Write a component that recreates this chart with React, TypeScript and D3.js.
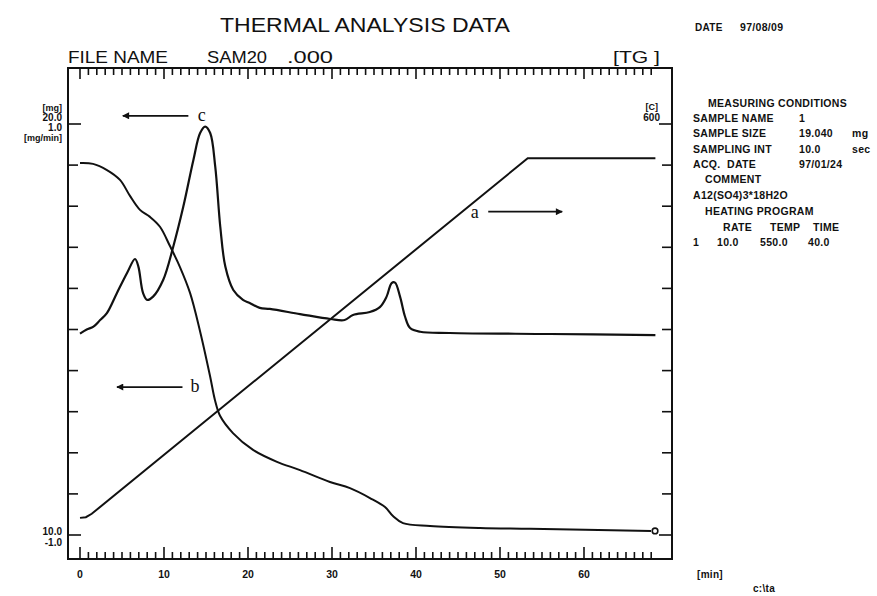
import React from 'react';
import * as d3 from 'd3';

// ---- data (time in min) ----
const timeLabels = [0, 10, 20, 30, 40, 50, 60];
const minuteTicks = d3.range(0, 69);

// a: temperature [C]
const tempTime = [0, 0.7, 1.4, 53.3, 68.5];
const tempValue = [25, 26, 31, 550, 550];

// b: TG weight [mg]
const tgTime = [0, 1.55, 3.21, 4.76, 5.95, 7.14, 8.33, 9.52, 10.71, 11.9, 13.1, 14.29, 15.48, 16.07, 16.67, 18.21, 20.6, 23.45, 26.19, 29.76, 32.14, 34.52, 36.31, 37.26, 38.45, 41.67, 47.62, 53.57, 67.98];
const tgValue = [19.05, 19.03, 18.88, 18.64, 18.25, 17.91, 17.74, 17.5, 17.03, 16.52, 15.89, 14.96, 13.87, 13.28, 12.9, 12.48, 12.07, 11.78, 11.58, 11.29, 11.14, 10.9, 10.68, 10.46, 10.29, 10.22, 10.17, 10.15, 10.1];

// c: DTG [mg/min]
const dtgTime = [0, 0.8, 1.6, 2.4, 3.2, 4.4, 5.6, 6.55, 6.95, 7.5, 8.0, 8.7, 9.9, 11.1, 12.3, 13.5, 14.3, 14.9, 15.5, 16.1, 16.7, 17.3, 18.25, 19.4, 20.2, 21.4, 22.6, 26.2, 29.8, 31.5, 32.5, 34.5, 35.7, 36.5, 37.1, 37.5, 38.1, 38.7, 39.3, 40.5, 44.0, 56.0, 68.5];
const dtgValue = [-0.02, 0.0, 0.014, 0.046, 0.08, 0.178, 0.275, 0.343, 0.306, 0.178, 0.144, 0.16, 0.241, 0.403, 0.598, 0.825, 0.956, 0.987, 0.956, 0.792, 0.5, 0.306, 0.192, 0.144, 0.129, 0.105, 0.1, 0.075, 0.051, 0.046, 0.071, 0.085, 0.109, 0.16, 0.226, 0.228, 0.16, 0.062, 0.007, -0.011, -0.017, -0.022, -0.027];

const tgTicks = d3.range(10, 21);

// right-hand panel
const conditionLines: [string, number, number][] = [
  ['MEASURING CONDITIONS', 708, 107],
  ['SAMPLE NAME', 693, 122],
  ['1', 799, 122],
  ['SAMPLE SIZE', 693, 137],
  ['19.040', 799, 137],
  ['mg', 852, 137],
  ['SAMPLING INT', 693, 153],
  ['10.0', 799, 153],
  ['sec', 852, 153],
  ['ACQ.', 693, 168],
  ['DATE', 727, 168],
  ['97/01/24', 799, 168],
  ['COMMENT', 705, 183],
  ['A12(SO4)3*18H2O', 693, 199],
  ['HEATING PROGRAM', 705, 215],
  ['RATE', 723, 231],
  ['TEMP', 770, 231],
  ['TIME', 813, 231],
  ['1', 693, 246],
  ['10.0', 717, 246],
  ['550.0', 760, 246],
  ['40.0', 808, 246],
];

export default function App() {
  const W = 877, H = 596;
  const L = 68, R = 672, T = 68, B = 559;
  const x = d3.scaleLinear().domain([0, 10]).range([80, 164]);
  const yTG = d3.scaleLinear().domain([10, 20]).range([535, 124]);
  const yDTG = d3.scaleLinear().domain([-1, 1]).range([535, 124]);
  const yT = d3.scaleLinear().domain([0, 600]).range([535, 124]);

  const tempPts = tempTime.map((t, i) => [t, tempValue[i]] as [number, number]);
  const tgPts = tgTime.map((t, i) => [t, tgValue[i]] as [number, number]);
  const dtgPts = dtgTime.map((t, i) => [t, dtgValue[i]] as [number, number]);

  const lineT = d3.line<[number, number]>().x(d => x(d[0])).y(d => yT(d[1]));
  const lineTG = d3.line<[number, number]>().x(d => x(d[0])).y(d => yTG(d[1])).curve(d3.curveCatmullRom.alpha(0.5));
  const lineDTG = d3.line<[number, number]>().x(d => x(d[0])).y(d => yDTG(d[1])).curve(d3.curveCatmullRom.alpha(0.5));

  const bold = { fontFamily: 'Liberation Sans, Arial, sans-serif', fontWeight: 700 } as const;
  const panel = { fontFamily: 'Liberation Sans, Arial, sans-serif', fontWeight: 700, letterSpacing: '0.3px' } as const;
  const plot = { fontFamily: 'Liberation Sans, Arial, sans-serif', fontWeight: 400 } as const;
  const serif = { fontFamily: 'Liberation Serif, Times New Roman, serif' } as const;

  const arrows = [
    { label: 'c', lx: 14.5, ly: 612, from: 12.9, to: 5.1, ay: 612 },
    { label: 'b', lx: 13.7, ly: 216, from: 12.2, to: 4.4, ay: 216 },
    { label: 'a', lx: 47.0, ly: 470, from: 48.6, to: 57.4, ay: 472 },
  ];

  const last = tgPts[tgPts.length - 1];

  return (
    <svg width={W} height={H} style={{ position: 'absolute', left: 0, top: 0, background: '#fff' }}>
      <defs>
        <marker id="ah" viewBox="0 0 10 10" refX="9" refY="5" markerWidth="9" markerHeight="7" markerUnits="userSpaceOnUse" orient="auto">
          <path d="M0,0 L10,5 L0,10 z" fill="#111" />
        </marker>
      </defs>
      <rect width={W} height={H} fill="#fff" />

      {/* headings */}
      <text x={220} y={32} fontSize={21} textLength={290} lengthAdjust="spacingAndGlyphs" style={plot} fill="#111">THERMAL ANALYSIS DATA</text>
      <text x={68} y={63} fontSize={17} textLength={100} lengthAdjust="spacingAndGlyphs" style={plot} fill="#111">FILE NAME</text>
      <text x={207} y={63} fontSize={17} textLength={60} lengthAdjust="spacingAndGlyphs" style={plot} fill="#111">SAM20</text>
      <text x={287} y={63} fontSize={17} textLength={46} lengthAdjust="spacingAndGlyphs" style={plot} fill="#111">.000</text>
      <text x={613} y={63} fontSize={17} textLength={47} lengthAdjust="spacingAndGlyphs" style={plot} fill="#111">[TG ]</text>

      {/* frame */}
      <rect x={L} y={T} width={R - L} height={B - T} fill="none" stroke="#111" strokeWidth={2} />

      {/* time ticks top & bottom */}
      {minuteTicks.map(m => {
        const major = m % 10 === 0;
        const xx = x(m);
        return (
          <g key={m}>
            <line x1={xx} x2={xx} y1={T} y2={T + (major ? 11 : 7)} stroke="#111" strokeWidth={1.6} />
            <line x1={xx} x2={xx} y1={B} y2={B - (major ? 12 : 7)} stroke="#111" strokeWidth={1.6} />
          </g>
        );
      })}
      {timeLabels.map(t => (
        <text key={t} x={x(t)} y={578} fontSize={10.5} textAnchor="middle" style={bold} fill="#111">{t}</text>
      ))}
      <text x={697} y={578} fontSize={10} style={panel} fill="#111">[min]</text>
      <text x={753} y={592} fontSize={10} style={panel} fill="#111">c:\ta</text>

      {/* left & right ticks */}
      {tgTicks.map((v, i) => {
        const yy = yTG(v);
        const end = i === 0 || i === tgTicks.length - 1;
        return (
          <g key={v}>
            <line x1={L} x2={L + (end ? 13 : 10)} y1={yy} y2={yy} stroke="#111" strokeWidth={1.6} />
            <line x1={R} x2={R - (end ? 13 : 10)} y1={yy} y2={yy} stroke="#111" strokeWidth={1.6} />
          </g>
        );
      })}
      <text x={62} y={111} fontSize={9} textAnchor="end" style={bold} fill="#111">[mg]</text>
      <text x={62} y={121} fontSize={10} textAnchor="end" style={bold} fill="#111">{tgTicks[tgTicks.length - 1].toFixed(1)}</text>
      <text x={62} y={131} fontSize={10} textAnchor="end" style={bold} fill="#111">{yDTG.domain()[1].toFixed(1)}</text>
      <text x={62} y={141} fontSize={9} textAnchor="end" style={bold} fill="#111">[mg/min]</text>
      <text x={62} y={535} fontSize={10} textAnchor="end" style={bold} fill="#111">{tgTicks[0].toFixed(1)}</text>
      <text x={62} y={546} fontSize={10} textAnchor="end" style={bold} fill="#111">{yDTG.domain()[0].toFixed(1)}</text>
      <text x={658} y={110} fontSize={9} textAnchor="end" style={bold} fill="#111">[C]</text>
      <text x={660} y={121} fontSize={10} textAnchor="end" style={bold} fill="#111">{yT.domain()[1]}</text>

      {/* curves */}
      <path d={lineT(tempPts) || ''} fill="none" stroke="#111" strokeWidth={2} />
      <path d={lineTG(tgPts) || ''} fill="none" stroke="#111" strokeWidth={2} />
      <path d={lineDTG(dtgPts) || ''} fill="none" stroke="#111" strokeWidth={2.2} />
      <circle cx={x(last[0]) + 4} cy={yTG(last[1])} r={2.8} fill="#fff" stroke="#111" strokeWidth={1.6} />

      {/* annotations */}
      {arrows.map(a => (
        <g key={a.label}>
          <line x1={x(a.from)} x2={x(a.to)} y1={yT(a.ay)} y2={yT(a.ay)} stroke="#111" strokeWidth={1.8} markerEnd="url(#ah)" />
          <text x={x(a.lx)} y={yT(a.ly) + 5} fontSize={18} textAnchor="middle" style={serif} fill="#111">{a.label}</text>
        </g>
      ))}

      {/* right panel */}
      <text x={695} y={31} fontSize={10} style={panel} fill="#111">DATE</text>
      <text x={740} y={31} fontSize={10.5} style={panel} fill="#111">97/08/09</text>
      {conditionLines.map(([s, xx, yy], i) => (
        <text key={i} x={xx} y={yy} fontSize={10.5} style={panel} fill="#111">{s}</text>
      ))}
    </svg>
  );
}
